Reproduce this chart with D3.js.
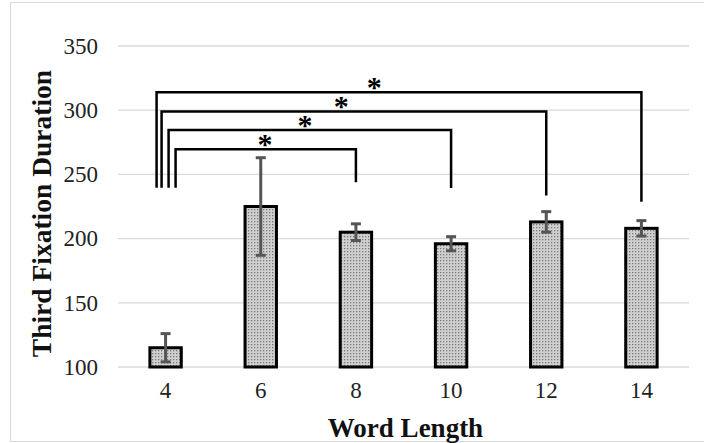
<!DOCTYPE html>
<html>
<head>
<meta charset="utf-8">
<script src="https://cdn.jsdelivr.net/npm/d3@7"></script>
<style>
  body { margin: 0; background: #fff; }
  text { font-family: "Liberation Serif", "Times New Roman", serif; }
</style>
</head>
<body>
<div class="chart"></div>
<script>
var svgWidth = 704;
var svgHeight = 443;

// data
var wordLengths = ["4", "6", "8", "10", "12", "14"];
var meanDurations = [115, 225, 205, 196, 213, 208];
var errorSizes = [11, 38, 6.5, 5.5, 8, 6];
var yTicks = [100, 150, 200, 250, 300, 350];

// significance brackets: from/to categories, bracket height, leg bottoms, left leg offset, star position
var bracketFrom = ["4", "4", "4", "4"];
var bracketTo = ["14", "12", "10", "8"];
var bracketTop = [314, 299, 284.6, 269.5];
var bracketLeftEnd = [239.6, 239.6, 239.6, 239.6];
var bracketRightEnd = [228.7, 233.6, 239.4, 243.8];
var bracketLeftShift = [-9, -4, 3, 10];
var bracketStarAt = [0.449, 0.467, 0.483, 0.496];

var margin = { top: 46, right: 15, bottom: 76, left: 118 };
var width = svgWidth - margin.left - margin.right;
var height = svgHeight - margin.top - margin.bottom;

var svg = d3.select(".chart")
    .append("svg")
    .attr("width", svgWidth)
    .attr("height", svgHeight);

// outer chart border
svg.append("rect")
    .attr("x", 10.5)
    .attr("y", 2.5)
    .attr("width", svgWidth)
    .attr("height", svgHeight - 4)
    .attr("fill", "none")
    .attr("stroke", "#d9d9d9")
    .attr("stroke-width", 1);

// dotted bar fill
var defs = svg.append("defs");
var pat = defs.append("pattern")
    .attr("id", "dots")
    .attr("width", 3)
    .attr("height", 3)
    .attr("patternUnits", "userSpaceOnUse");
pat.append("rect").attr("width", 3).attr("height", 3).attr("fill", "#d0d0d0");
pat.append("rect").attr("x", 1).attr("y", 1).attr("width", 1.3).attr("height", 1.3).attr("fill", "#7a7a7a");

var chartGroup = svg.append("g")
    .attr("transform", `translate(${margin.left}, ${margin.top})`);

var xScale = d3.scaleBand()
    .domain(wordLengths)
    .range([0, width])
    .paddingInner(0.67)
    .paddingOuter(0.335);

var yScale = d3.scaleLinear()
    .domain([100, 350])
    .range([height, 0]);

// gridlines
chartGroup.append("g")
    .selectAll("line")
    .data(yTicks)
    .enter()
    .append("line")
    .attr("x1", 0)
    .attr("x2", width)
    .attr("y1", d => yScale(d))
    .attr("y2", d => yScale(d))
    .attr("stroke", "#dadada")
    .attr("stroke-width", 1.3);

// axes (labels only)
var leftAxis = d3.axisLeft(yScale).tickValues(yTicks).tickSize(0).tickPadding(20);
var yAxisG = chartGroup.append("g").call(leftAxis);
yAxisG.select(".domain").remove();
yAxisG.selectAll("text")
    .style("font-size", "23px")
    .attr("fill", "#222");

var bottomAxis = d3.axisBottom(xScale).tickSize(0).tickPadding(15);
var xAxisG = chartGroup.append("g")
    .attr("transform", `translate(0, ${height})`)
    .call(bottomAxis);
xAxisG.select(".domain").remove();
xAxisG.selectAll("text")
    .style("font-size", "23px")
    .attr("fill", "#222");

var rows = wordLengths.map((w, i) => ({ w: w, v: meanDurations[i], e: errorSizes[i] }));

// bars
chartGroup.selectAll(".bar")
    .data(rows)
    .enter()
    .append("rect")
    .attr("class", "bar")
    .attr("x", d => xScale(d.w))
    .attr("y", d => yScale(d.v))
    .attr("width", xScale.bandwidth())
    .attr("height", d => height - yScale(d.v))
    .attr("fill", "url(#dots)")
    .attr("stroke", "#000")
    .attr("stroke-width", 3);

// error bars
var errG = chartGroup.append("g")
    .attr("stroke", "#555")
    .attr("stroke-width", 3);
rows.forEach(function (d) {
    var cx = xScale(d.w) + xScale.bandwidth() / 2;
    errG.append("line")
        .attr("x1", cx).attr("x2", cx)
        .attr("y1", yScale(d.v + d.e)).attr("y2", yScale(d.v - d.e));
    errG.append("line")
        .attr("x1", cx - 5).attr("x2", cx + 5)
        .attr("y1", yScale(d.v + d.e)).attr("y2", yScale(d.v + d.e));
    errG.append("line")
        .attr("x1", cx - 5).attr("x2", cx + 5)
        .attr("y1", yScale(d.v - d.e)).attr("y2", yScale(d.v - d.e));
});

// significance brackets
var brG = chartGroup.append("g");
bracketFrom.forEach(function (from, i) {
    var x1 = xScale(from) + xScale.bandwidth() / 2 + bracketLeftShift[i];
    var x2 = xScale(bracketTo[i]) + xScale.bandwidth() / 2;
    var yt = yScale(bracketTop[i]);
    brG.append("path")
        .attr("d", `M${x1},${yScale(bracketLeftEnd[i])}V${yt}H${x2}V${yScale(bracketRightEnd[i])}`)
        .attr("fill", "none")
        .attr("stroke", "#000")
        .attr("stroke-width", 2.5);
    brG.append("text")
        .attr("x", x1 + (x2 - x1) * bracketStarAt[i])
        .attr("y", yt + 5)
        .attr("text-anchor", "middle")
        .style("font-size", "30px")
        .style("font-weight", "bold")
        .attr("fill", "#000")
        .text("*");
});

// axis titles
chartGroup.append("text")
    .attr("transform", "rotate(-90)")
    .attr("x", 0 - height / 2 - 7)
    .attr("y", 0 - margin.left + 51)
    .attr("text-anchor", "middle")
    .style("font-size", "27.5px")
    .style("font-weight", "bold")
    .attr("fill", "#111")
    .text("Third Fixation Duration");

chartGroup.append("text")
    .attr("x", width / 2 + 2)
    .attr("y", height + 70)
    .attr("text-anchor", "middle")
    .style("font-size", "27px")
    .style("font-weight", "bold")
    .attr("fill", "#111")
    .text("Word Length");
</script>
</body>
</html>
